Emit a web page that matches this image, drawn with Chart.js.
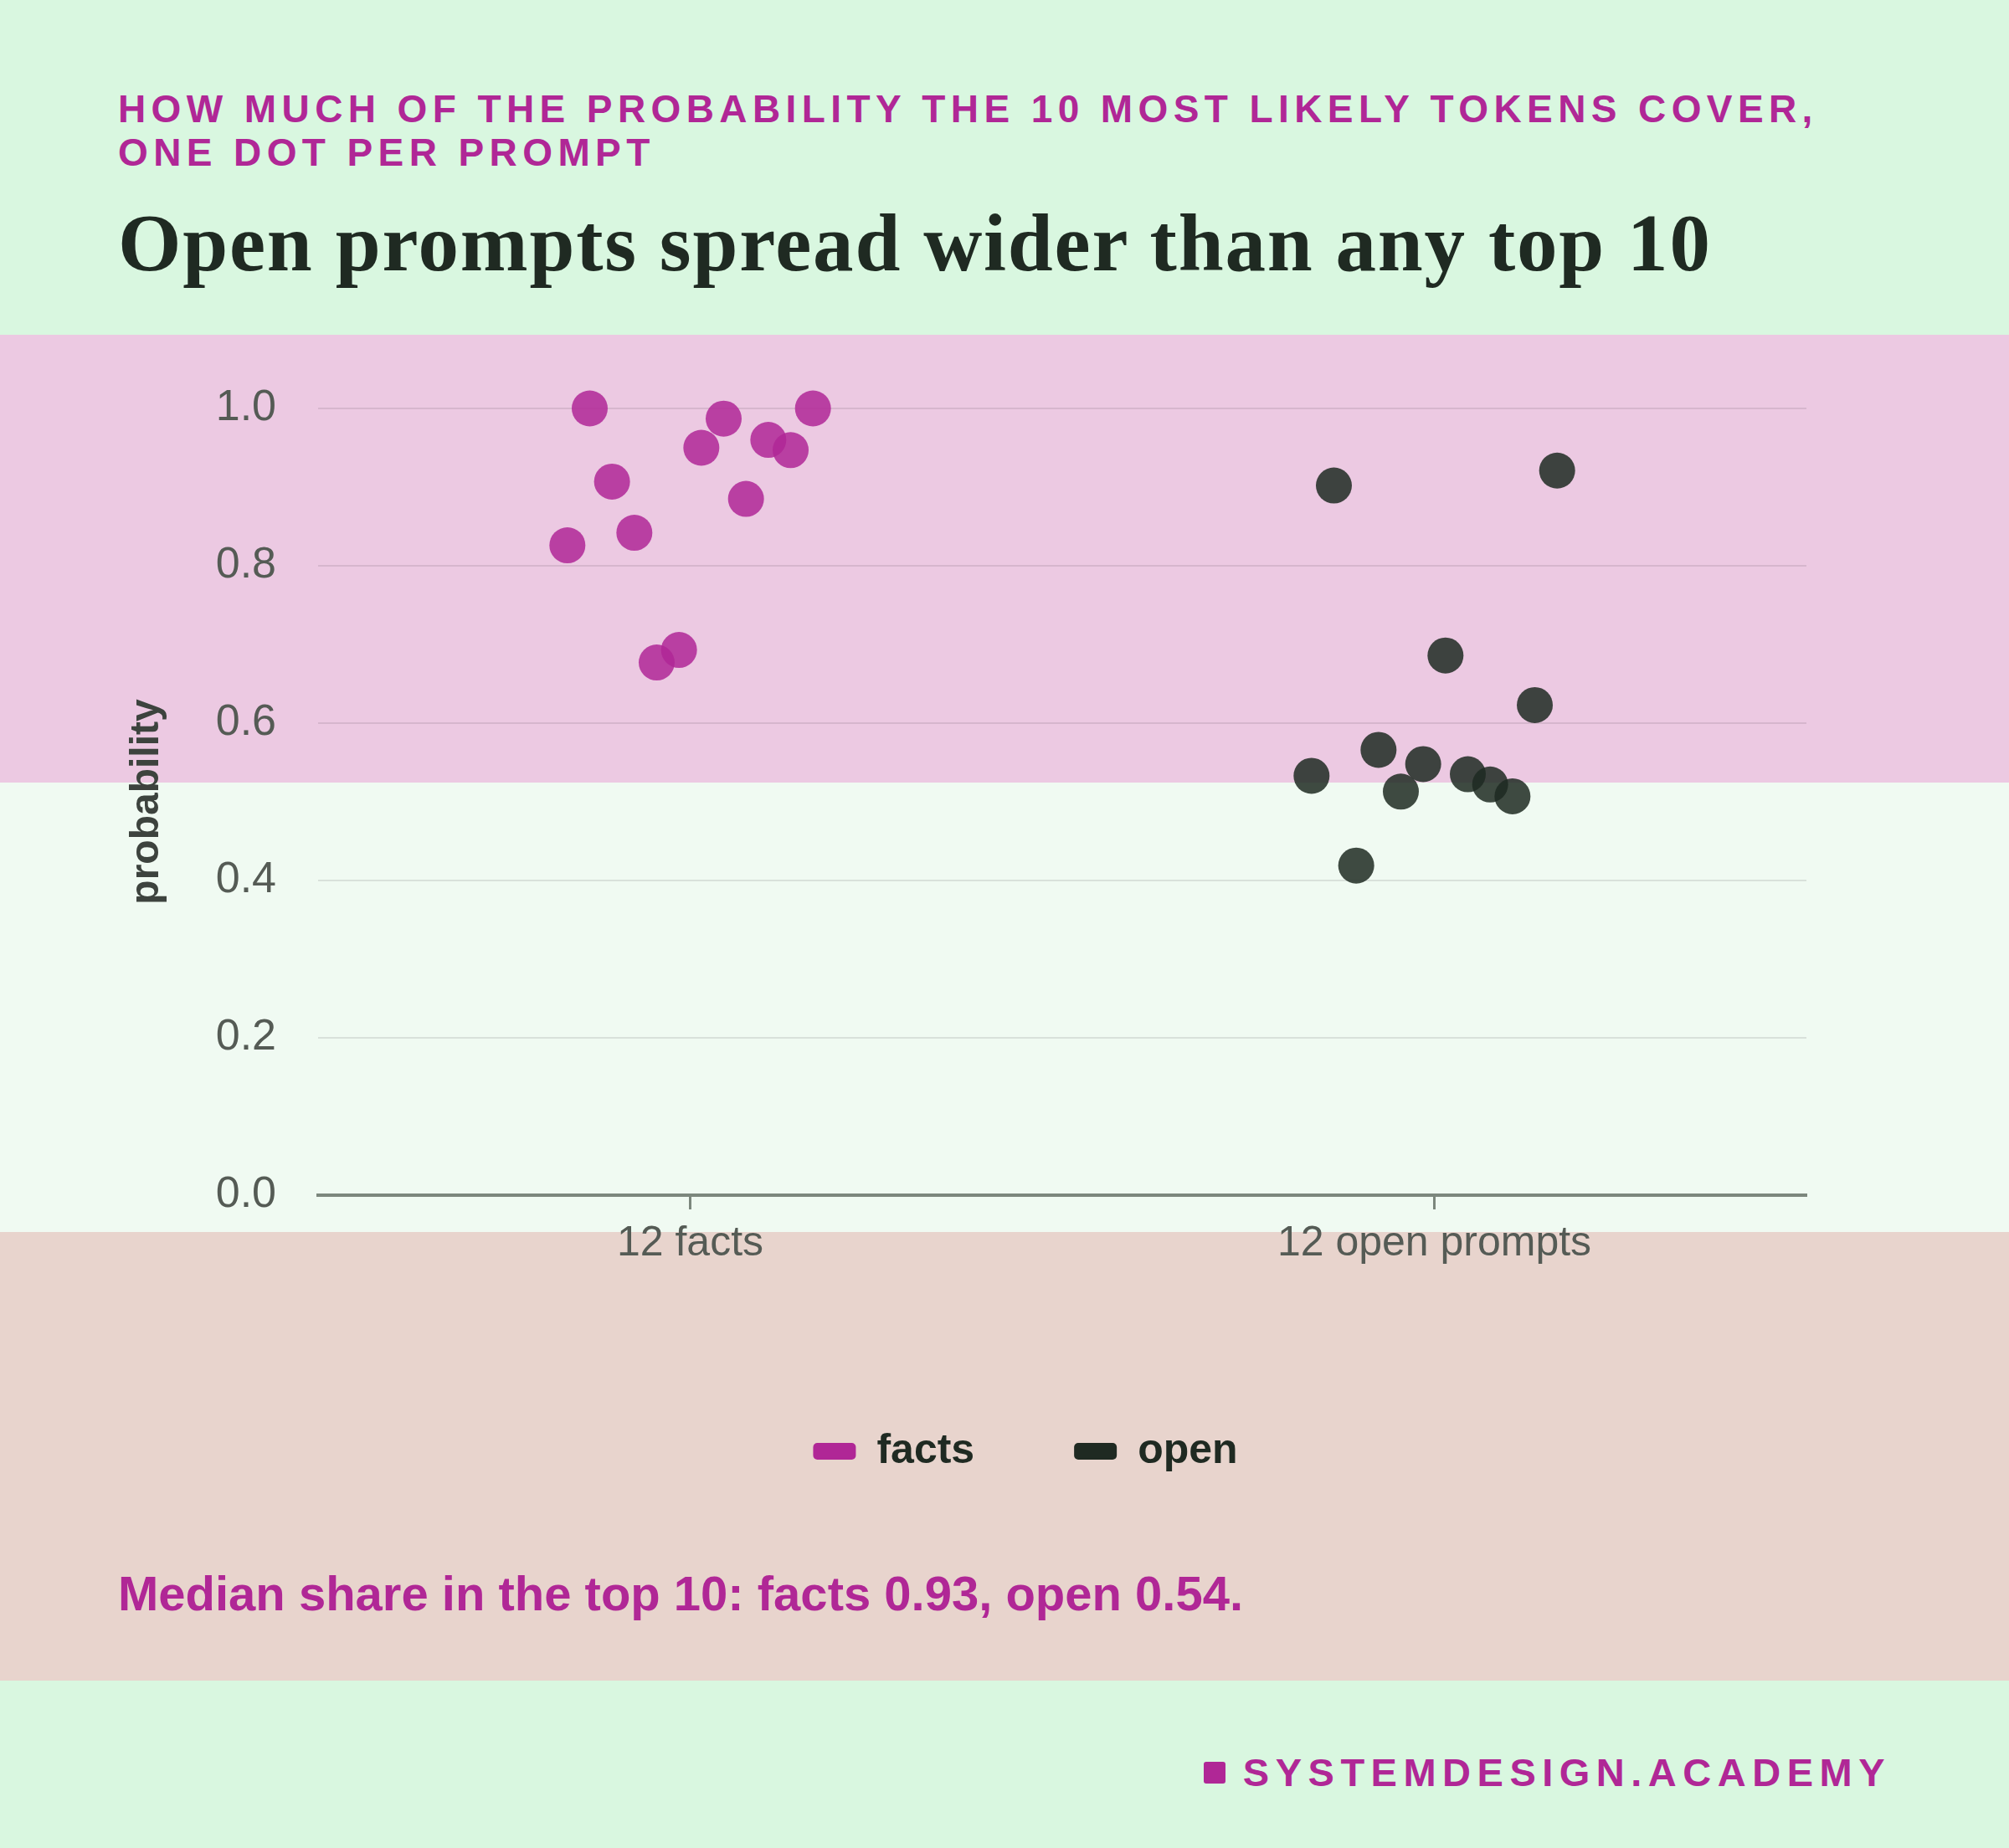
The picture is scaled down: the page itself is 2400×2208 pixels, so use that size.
<!DOCTYPE html>
<html>
<head>
<meta charset="utf-8">
<script src="https://cdn.jsdelivr.net/npm/chart.js@4.4.1/dist/chart.umd.min.js"></script>
<style>
  html, body { margin: 0; padding: 0; }
  body { width: 2400px; height: 2208px; background: #d9f7e0; position: relative; overflow: hidden;
         font-family: "Liberation Sans", Arial, sans-serif; }
  #kicker { position: absolute; left: 141px; top: 104px; width: 2130px; font-size: 46px; line-height: 52px;
            font-weight: bold; letter-spacing: 6.4px; color: #b02796; }
  #title { position: absolute; left: 141px; top: 242px; font-family: "Liberation Serif", serif; font-size: 97px;
           line-height: 1; font-weight: bold; letter-spacing: 1.8px; color: #1f2a22; white-space: nowrap; }
  #panel { position: absolute; left: 0; top: 400px; width: 2400px; height: 1608px;
           background: linear-gradient(to bottom, #ecc9e2 0, #ecc9e2 535px, #f0faf2 535px, #f0faf2 1072px, #e8d4cd 1072px, #e8d4cd 1608px); }
  #wrap { position: absolute; left: 0; top: 0; width: 2400px; height: 1400px; }
  #note { position: absolute; left: 141px; top: 1475px; font-size: 58px; line-height: 1; font-weight: bold; color: #b02796; white-space: nowrap; }
  #brand { position: absolute; right: 141px; top: 2094px; font-size: 47px; line-height: 1; font-weight: bold;
           letter-spacing: 7.5px; color: #b02796; display: flex; align-items: center; }
  #brand span.sq { display: inline-block; width: 26px; height: 26px; border-radius: 3px; background: #b02796; margin-right: 21px; }
</style>
</head>
<body>
<div id="kicker">HOW MUCH OF THE PROBABILITY THE 10 MOST LIKELY TOKENS COVER, ONE DOT PER PROMPT</div>
<div id="title">Open prompts spread wider than any top 10</div>
<div id="panel">
  <div id="wrap"><canvas id="chart"></canvas></div>
  <div id="note">Median share in the top 10: facts 0.93, open 0.54.</div>
</div>
<div id="brand"><span class="sq"></span>SYSTEMDESIGN.ACADEMY</div>

<script>
// groups on the x axis
const categories = ["12 facts", "12 open prompts"];
// horizontal jitter of each dot inside its group
const jitter = [-0.165, -0.135, -0.105, -0.075, -0.045, -0.015, 0.015, 0.045, 0.075, 0.105, 0.135, 0.165];
// share of probability in the top 10 tokens, one per prompt
const factsValues = [0.826, 1.0, 0.907, 0.842, 0.677, 0.693, 0.950, 0.987, 0.885, 0.960, 0.947, 1.0];
const openValues = [0.533, 0.902, 0.419, 0.566, 0.513, 0.548, 0.686, 0.535, 0.522, 0.507, 0.623, 0.921];
const yTicks = [0, 0.2, 0.4, 0.6, 0.8, 1.0];

const magenta = "#b02796";
const ink = "#1f2a22";

function toPoints(values, group) {
  return values.map((v, i) => ({ x: group + jitter[i], y: v }));
}

// nudge the legend row a little left, like the original
const legendShift = {
  id: "legendShift",
  afterLayout(chart) {
    chart.legend.left -= 44;
    chart.legend.right -= 44;
  },
};

const ctx = document.getElementById("chart").getContext("2d");
new Chart(ctx, {
  type: "scatter",
  data: {
    datasets: [
      {
        label: "facts",
        data: toPoints(factsValues, 0),
        backgroundColor: "rgba(176,39,150,0.85)",
        borderWidth: 0,
        pointRadius: 21.5,
        pointHoverRadius: 21.5,
        clip: false,
      },
      {
        label: "open",
        data: toPoints(openValues, 1),
        backgroundColor: "rgba(31,42,34,0.85)",
        borderWidth: 0,
        pointRadius: 21.5,
        pointHoverRadius: 21.5,
        clip: false,
      },
    ],
  },
  plugins: [legendShift],
  options: {
    responsive: true,
    maintainAspectRatio: false,
    animation: false,
    devicePixelRatio: 1,
    layout: { padding: { top: 88, left: 141, right: 242, bottom: 31 } },
    plugins: {
      tooltip: { enabled: false },
      legend: {
        position: "bottom",
        fullSize: false,
        labels: {
          generateLabels: (chart) =>
            chart.data.datasets.map((ds, i) => ({
              text: ds.label,
              fillStyle: i === 0 ? magenta : ink,
              strokeStyle: "transparent",
              fontColor: ink,
              lineWidth: 0,
              borderRadius: 5,
              datasetIndex: i,
            })),
          useBorderRadius: true,
          boxWidth: 51,
          boxHeight: 20,
          padding: 119,
          color: ink,
          font: { family: "Liberation Sans", size: 50, weight: "bold" },
        },
      },
    },
    scales: {
      x: {
        type: "linear",
        min: -0.5,
        max: 1.5,
        afterBuildTicks: (axis) => { axis.ticks = categories.map((c, i) => ({ value: i })); },
        afterFit: (axis) => { axis.height = 162; },
        ticks: {
          callback: (v) => categories[v],
          color: "#555b55",
          padding: 11,
          maxRotation: 0,
          font: { family: "Liberation Sans", size: 50 },
        },
        grid: { drawOnChartArea: false, drawTicks: true, tickLength: 17, tickWidth: 3, tickColor: "#7c877d" },
        border: { display: true, color: "#7c877d", width: 4 },
      },
      y: {
        min: 0,
        max: 1,
        afterBuildTicks: (axis) => { axis.ticks = yTicks.map((v) => ({ value: v })); },
        afterFit: (axis) => { axis.width = 239; },
        ticks: {
          callback: (v) => v.toFixed(1),
          color: "#555b55",
          padding: 50,
          font: { family: "Liberation Sans", size: 52 },
        },
        grid: { color: "rgba(60,50,60,0.12)", lineWidth: 2, drawTicks: false },
        border: { display: false },
        title: {
          display: true,
          text: "probability",
          color: "#3d433e",
          padding: { top: 6, bottom: 0 },
          font: { family: "Liberation Sans", size: 48, weight: "bold" },
        },
      },
    },
  },
});
</script>
</body>
</html>
